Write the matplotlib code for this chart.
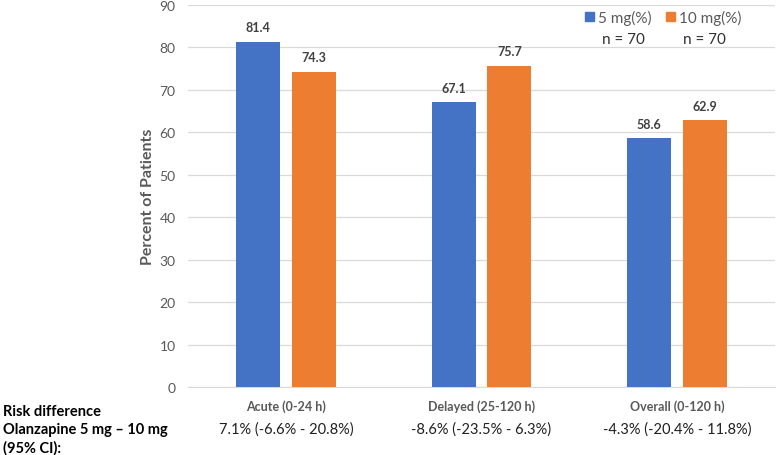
import numpy as np
import matplotlib
matplotlib.use("Agg")
import matplotlib.pyplot as plt

categories = ["Acute (0-24 h)", "Delayed (25-120 h)", "Overall (0-120 h)"]
dose_5mg = [81.4, 67.1, 58.6]
dose_10mg = [74.3, 75.7, 62.9]
risk_diff = ["7.1% (-6.6% - 20.8%)", "-8.6% (-23.5% - 6.3%)", "-4.3% (-20.4% - 11.8%)"]
series_names = ["5 mg(%)", "10 mg(%)"]
series_n = ["n = 70", "n = 70"]
y_ticks = list(range(0, 91, 10))

plt.rcParams['font.family'] = ['Lato', 'DejaVu Sans']

blue = '#4472C4'
orange = '#ED7D31'
grey = '#595959'

fig = plt.figure(figsize=(7.78, 4.56), dpi=100)
ax = fig.add_axes([188 / 778, 1 - 388 / 456, (775 - 188) / 778, (388 - 6) / 456])

x = np.arange(len(categories))
w = 0.225
off = 0.143
b1 = ax.bar(x - off, dose_5mg, w, color=blue, zorder=3)
b2 = ax.bar(x + off, dose_10mg, w, color=orange, zorder=3)

for bars, vals in ((b1, dose_5mg), (b2, dose_10mg)):
    for rect, v in zip(bars, vals):
        ax.annotate(f"{v:.1f}", (rect.get_x() + rect.get_width() / 2, v),
                    xytext=(0, 6), textcoords='offset points',
                    ha='center', va='bottom', fontsize=9,
                    fontweight='bold', color='#404040')

ax.set_xlim(-0.5, len(categories) - 0.5)
ax.set_ylim(0, 90)
ax.set_yticks(y_ticks)
ax.tick_params(axis='y', length=0, pad=9, labelsize=10, labelcolor=grey)
ax.set_xticks(x)
ax.set_xticklabels(categories, fontsize=9, fontweight='bold', color=grey)
ax.tick_params(axis='x', length=0, pad=9)
ax.grid(axis='y', color='#D9D9D9', linewidth=0.9, zorder=0)
for s in ['top', 'right', 'left']:
    ax.spines[s].set_visible(False)
ax.spines['bottom'].set_color('#D9D9D9')

fig.text(148 / 778, 1 - 197 / 456, "Percent of Patients", rotation=90,
         ha='center', va='center', fontsize=11.5, fontweight='bold', color=grey)

# legend drawn by hand to get the n = 70 line under each entry
leg_x = [585, 666]
for lx, name, n, c in zip(leg_x, series_names, series_n, [blue, orange]):
    fig.patches.append(plt.Rectangle((lx / 778, 1 - 22 / 456), 9 / 778, 9 / 456,
                                     transform=fig.transFigure, color=c))
    fig.text((lx + 13) / 778, 1 - 18 / 456, name, ha='left', va='center',
             fontsize=11, color=grey)
    fig.text((lx + 38) / 778, 1 - 40 / 456, n, ha='center', va='center',
             fontsize=11, color='#303030')

# risk difference row
fig.text(3 / 778, 1 - 430 / 456, "Risk difference\nOlanzapine 5 mg \u2013 10 mg\n(95% CI):",
         ha='left', va='center', fontsize=10.5, fontweight='bold',
         color='black', linespacing=1.35)
for xi, txt in zip(x, risk_diff):
    px = ax.transData.transform((xi, 0))[0]
    fig.text(px / fig.bbox.width, 1 - 430 / 456, txt, ha='center', va='center',
             fontsize=10.5, color='#202020')

fig.savefig("out.png", dpi=100)
